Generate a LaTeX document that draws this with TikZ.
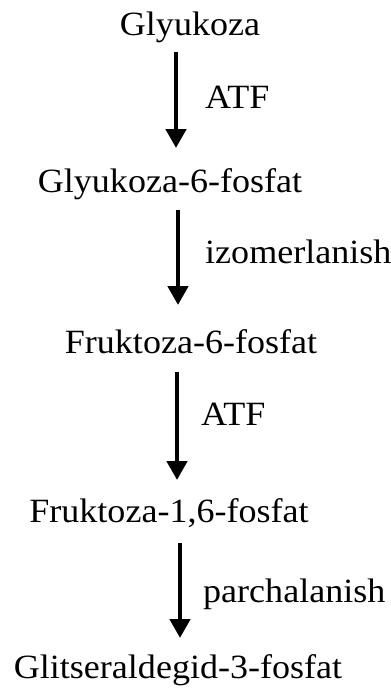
\documentclass[tikz,border=0pt]{standalone}
\usepackage{fontspec}
\setmainfont{Liberation Serif}
\usetikzlibrary{arrows.meta}
\begin{document}
\begin{tikzpicture}[x=1pt,y=-1pt,
  chem/.style={inner sep=0pt, anchor=base, font=\fontsize{34}{40}\selectfont, xscale=1.06, transform shape},
  lab/.style={inner sep=0pt, anchor=base west, font=\fontsize{34}{40}\selectfont, xscale=1.06, transform shape},
  rxn/.style={line width=4.5pt, -{Triangle[width=20pt,length=19pt]}}]
\useasboundingbox (0,0) rectangle (391,691);
\node[chem] (g)  at (190,35)  {Glyukoza};
\node[chem] (g6) at (170,192) {Glyukoza-6-fosfat};
\node[chem] (f6) at (191,353) {Fruktoza-6-fosfat};
\node[chem] (f16) at (169,522) {Fruktoza-1,6-fosfat};
\node[chem] (gl) at (178,678) {Glitseraldegid-3-fosfat};
\node[lab] (l1) at (205,108) {ATF};
\node[lab] (l2) at (205,263) {izomerlanish};
\node[lab] (l3) at (201,425) {ATF};
\node[lab] (l4) at (203,602) {parchalanish};
\coordinate (a1s) at (176,52);  \coordinate (a1e) at (176,148);
\coordinate (a2s) at (178,210); \coordinate (a2e) at (178,305);
\coordinate (a3s) at (177,372); \coordinate (a3e) at (177,480);
\coordinate (a4s) at (180,543); \coordinate (a4e) at (180,638);
\draw[rxn] (a1s) -- (a1e);
\draw[rxn] (a2s) -- (a2e);
\draw[rxn] (a3s) -- (a3e);
\draw[rxn] (a4s) -- (a4e);
\end{tikzpicture}
\end{document}
